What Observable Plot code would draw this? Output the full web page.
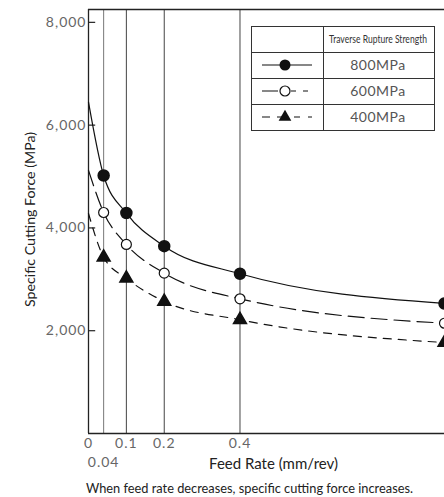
<!DOCTYPE html>
<html>
<head>
<meta charset="utf-8">
<script src="https://cdn.jsdelivr.net/npm/d3@7"></script>
<script src="https://cdn.jsdelivr.net/npm/@observablehq/plot@0.6"></script>
<style>
  html, body { margin: 0; padding: 0; background: #fff; overflow: hidden; }
  #wrap { position: relative; width: 444px; height: 497px; font-family: Lato, "Open Sans", sans-serif; }
  #caption { position: absolute; left: 0; top: 474px; }
  #legend { position: absolute; left: 251px; top: 26px; }
  #chart g[aria-label="y-axis tick label"] text,
  #chart g[aria-label="x-axis tick label"] text { letter-spacing: 1px; }
</style>
</head>
<body>
<div id="wrap">
  <div id="chart"></div>
  <div id="legend"></div>
  <div id="caption"></div>
</div>
<script>
// ---- data ----
const feedRates = [0, 0.04, 0.1, 0.2, 0.4, 0.94];          // mm/rev (0 = curve start, 0.94 = right edge)
const force800 = [6450, 5020, 4290, 3645, 3108, 2530];     // MPa
const force600 = [5120, 4300, 3678, 3120, 2621, 2146];
const force400 = [4280, 3430, 3020, 2569, 2213, 1770];
const seriesNames = ["800MPa", "600MPa", "400MPa"];
const xTickLabels = [0, 0.1, 0.2, 0.4];
const xTickLow = [0.04];
const gridX = [0.04, 0.1, 0.2, 0.4];
const yTickLabels = [2000, 4000, 6000, 8000];
const yTop = 8250;
const xEnd = 0.94;
const legendTitle = "Traverse Rupture Strength";
const captionText = "When feed rate decreases, specific cutting force increases.";

const rows = feedRates.map((f, i) => ({f, a: force800[i], b: force600[i], c: force400[i]}));
const markerRows = rows.slice(1);
const fmt = d3.format(",");

const ink = "#111";
const chart = Plot.plot({
  width: 444,
  height: 474,
  marginLeft: 88,
  marginRight: 0,
  marginTop: 9,
  marginBottom: 41,
  x: {type: "linear", domain: [0, xEnd]},
  y: {type: "linear", domain: [0, yTop]},
  style: {fontFamily: "Lato, 'Open Sans', sans-serif", fontSize: "14px", color: ink, background: "#fff"},
  marks: [
    Plot.ruleX(gridX, {y1: 0, y2: yTop, stroke: d => d < 0.05 ? "#777" : "#444", strokeWidth: 1}),
    Plot.ruleX([0], {y1: 0, y2: yTop, stroke: "#222", strokeWidth: 1.3}),
    Plot.ruleY([0], {x1: 0, x2: xEnd, stroke: "#222", strokeWidth: 1.3}),
    Plot.ruleY([yTop], {x1: 0, x2: xEnd, stroke: "#222", strokeWidth: 1.3}),
    Plot.ruleY(yTickLabels, {x1: 0, x2: 0.019, stroke: "#222", strokeWidth: 1.2}),
    Plot.axisY(yTickLabels, {tickSize: 0, tickPadding: 2, tickFormat: fmt, label: null, fill: "#666", fontSize: 14}),
    Plot.axisX(xTickLabels, {tickSize: 0, tickPadding: 5, tickFormat: d => String(d), label: null, fill: "#666", fontSize: 14}),
    Plot.axisX(xTickLow, {tickSize: 0, tickPadding: 24, tickFormat: d => String(d), label: null, fill: "#666", fontSize: 14}),
    Plot.line(rows, {x: "f", y: "a", curve: "monotone-x", stroke: ink, strokeWidth: 1.2}),
    Plot.line(rows, {x: "f", y: "b", curve: "monotone-x", stroke: ink, strokeWidth: 1.2, strokeDasharray: "16,7"}),
    Plot.line(rows, {x: "f", y: "c", curve: "monotone-x", stroke: ink, strokeWidth: 1.2, strokeDasharray: "8,7"}),
    Plot.dot(markerRows, {x: "f", y: "a", r: 5.5, fill: ink, stroke: ink}),
    Plot.dot(markerRows, {x: "f", y: "b", r: 5, fill: "#fff", stroke: ink, strokeWidth: 1.2}),
    Plot.dot(markerRows, {x: "f", y: "c", r: 4.8, symbol: "triangle", fill: ink, stroke: ink}),
    Plot.text(["Feed Rate (mm/rev)"], {frameAnchor: "bottom", dy: 35, dx: 7, fill: "#222", fontSize: 15}),
    Plot.text(["Specific Cutting Force (MPa)"], {frameAnchor: "left", textAnchor: "middle", dx: -58, dy: -2, rotate: -90, fill: "#222", fontSize: 14.2})
  ]
});
document.getElementById("chart").appendChild(chart);

// ---- caption ----
const cap = d3.select("#caption").append("svg").attr("width", 444).attr("height", 23);
cap.append("text").attr("x", 86).attr("y", 19).attr("font-size", 13.5).attr("fill", "#222")
  .attr("font-family", "Lato, 'Open Sans', sans-serif")
  .attr("textLength", 327).attr("lengthAdjust", "spacingAndGlyphs").text(captionText);

// ---- legend table ----
const lw = 184, lh = 105;
const lg = d3.select("#legend").append("svg").attr("width", lw).attr("height", lh);
lg.append("rect").attr("x", 0.5).attr("y", 0.5).attr("width", lw - 1).attr("height", lh - 1)
  .attr("fill", "#fff").attr("stroke", "#333");
lg.append("line").attr("x1", 72.5).attr("x2", 72.5).attr("y1", 0).attr("y2", lh).attr("stroke", "#333");
[26.5, 52.5, 78.5].forEach(y => lg.append("line").attr("x1", 0).attr("x2", lw).attr("y1", y).attr("y2", y).attr("stroke", "#333"));
const head = lg.append("text").attr("x", 0).attr("y", 0).attr("dy", "0.35em").attr("text-anchor", "middle")
  .attr("font-family", "Lato, 'Open Sans', sans-serif")
  .attr("font-size", 10.5).attr("fill", "#333").text(legendTitle);
const natural = head.node().getComputedTextLength() || 98;
head.attr("transform", `translate(127,13) scale(${98 / natural},1)`);
const dashes = [null, "16,13,5,7,5", "8,7,5,12,6,8,6"];
seriesNames.forEach((name, i) => {
  const cy = 39 + i * 26;
  const ln = lg.append("line").attr("x1", 11).attr("x2", 61).attr("y1", cy).attr("y2", cy)
    .attr("stroke", ink).attr("stroke-width", 1.2);
  if (dashes[i]) ln.attr("stroke-dasharray", dashes[i]);
  if (i === 0) lg.append("circle").attr("cx", 34).attr("cy", cy).attr("r", 5.5).attr("fill", ink);
  if (i === 1) lg.append("circle").attr("cx", 34).attr("cy", cy).attr("r", 5).attr("fill", "#fff").attr("stroke", ink).attr("stroke-width", 1.2);
  if (i === 2) lg.append("path").attr("transform", `translate(34,${cy})`)
    .attr("d", d3.symbol(d3.symbolTriangle, 70)()).attr("fill", ink);
  lg.append("text").attr("x", 127).attr("y", cy).attr("dy", "0.35em").attr("text-anchor", "middle")
    .attr("font-size", 14).attr("letter-spacing", "0.5px").attr("fill", "#555")
    .attr("font-family", "Lato, 'Open Sans', sans-serif").text(name);
});
</script>
</body>
</html>
